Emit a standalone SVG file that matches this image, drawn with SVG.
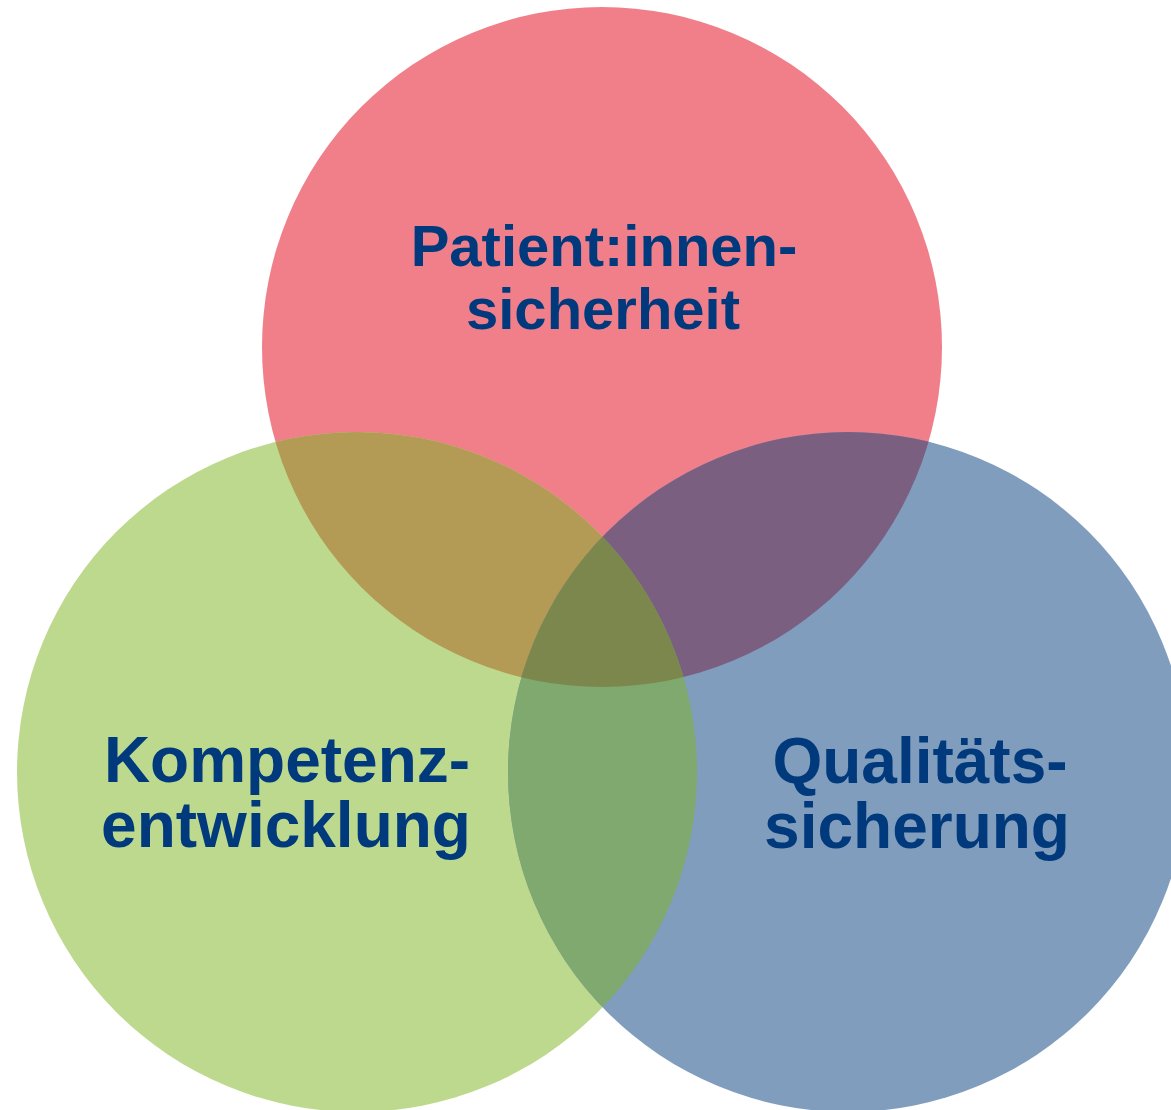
<svg xmlns="http://www.w3.org/2000/svg" width="1171" height="1110" viewBox="0 0 1171 1110">
  <style>
    .lbl { font-family: "Liberation Sans", Arial, sans-serif; font-weight: bold; fill: #003A7D; text-anchor: middle; }
    .top { font-size: 58px; }
    .big { font-size: 64px; }
  </style>
  <defs>
    <clipPath id="cpP"><circle cx="602" cy="347" r="340"/></clipPath>
    <clipPath id="cpB"><circle cx="848" cy="772" r="340"/></clipPath>
  </defs>
  <rect width="1171" height="1110" fill="#ffffff"/>
  <g id="circle-patient">
    <circle cx="602" cy="347" r="340" fill="#F07F8A"/>
  </g>
  <g id="circle-kompetenz">
    <circle cx="357" cy="772" r="340" fill="#BDD98E"/>
  </g>
  <g id="circle-qualitaet">
    <circle cx="848" cy="772" r="340" fill="#809DBD"/>
  </g>
  <g id="overlaps">
    <circle cx="357" cy="772" r="340" fill="#B39B55" clip-path="url(#cpP)"/>
    <circle cx="848" cy="772" r="340" fill="#7A5F80" clip-path="url(#cpP)"/>
    <circle cx="357" cy="772" r="340" fill="#7FA96E" clip-path="url(#cpB)"/>
    <g clip-path="url(#cpP)">
      <circle cx="357" cy="772" r="340" fill="#7C874D" clip-path="url(#cpB)"/>
    </g>
  </g>
  <g id="connectors"></g>
  <g id="label-patient">
    <text class="lbl top" x="604" y="266">Patient:innen-</text>
    <text class="lbl top" x="603" y="329">sicherheit</text>
  </g>
  <g id="label-kompetenz">
    <text class="lbl big" x="287" y="782">Kompetenz-</text>
    <text class="lbl big" x="286" y="847">entwicklung</text>
  </g>
  <g id="label-qualitaet">
    <text class="lbl big" x="920" y="783">Qualitäts-</text>
    <text class="lbl big" x="917" y="848">sicherung</text>
  </g>
</svg>
